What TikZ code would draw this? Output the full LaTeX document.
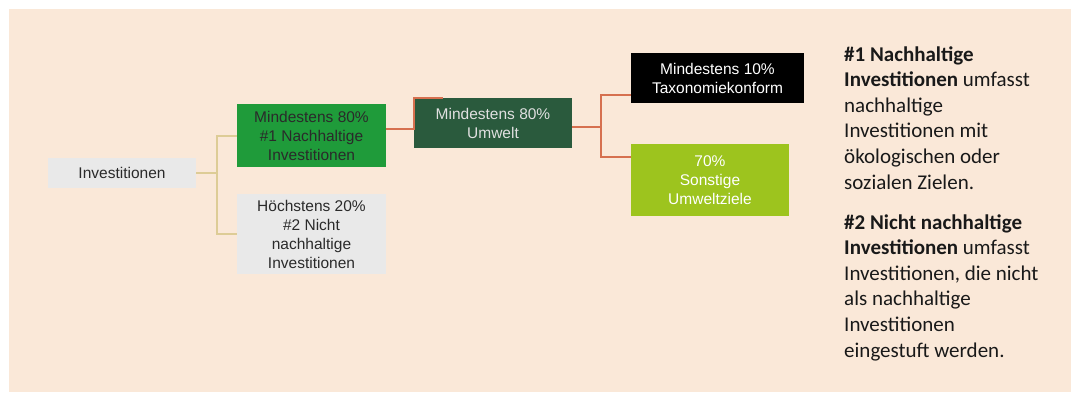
\documentclass[tikz,border=0pt]{standalone}
\usepackage{fontspec}
\setmainfont{Liberation Sans}
\newfontfamily\notefont{Carlito}
\definecolor{bgbeige}{HTML}{FAE8D8}
\definecolor{boxgray}{HTML}{E9E9E9}
\definecolor{nachgreen}{HTML}{1F9B3A}
\definecolor{umweltgreen}{HTML}{2A5A3D}
\definecolor{sonstgreen}{HTML}{9DC41E}
\definecolor{tanline}{HTML}{DDCC96}
\definecolor{redline}{HTML}{D6704F}
\definecolor{darktext}{HTML}{2A2A2A}

\begin{document}
\begin{tikzpicture}[x=1pt, y=-1pt,
	every node/.style={inner sep=0pt, align=center, text=darktext,
		font=\fontsize{15.5}{19}\selectfont},
	box/.style 2 args={minimum width=#1pt, minimum height=#2pt},
	tanlink/.style={draw=tanline, line width=2pt},
	redlink/.style={draw=redline, line width=2pt},
	notebox/.style={align=left, text=black!90, font=\notefont\fontsize{21}{25.6}\selectfont}]
\useasboundingbox (0,0) rectangle (1071,392);
\fill[bgbeige] (9,9) rectangle (1071,392);

\node[box={148}{30}, fill=boxgray] (inv) at (122,173) {Investitionen};
\node[box={149}{63}, fill=nachgreen] (nachh) at (311.5,135.5) {Mindestens 80\%\\\#1 Nachhaltige\\Investitionen};
\node[box={149}{80}, fill=boxgray] (nicht) at (311.5,234) {Höchstens 20\%\\\#2 Nicht\\nachhaltige\\Investitionen};
\node[box={158}{50.5}, fill=umweltgreen, text=white!88!black] (umwelt) at (493,123) {Mindestens 80\%\\Umwelt};
\node[box={173}{50}, fill=black, text=white] (taxo) at (717.5,78) {Mindestens 10\%\\Taxonomiekonform};
\node[box={158}{72}, fill=sonstgreen, text=white] (sonst) at (710,180) {70\%\\Sonstige\\Umweltziele};

\coordinate (jinv) at (216.5,173);
\coordinate (jnach) at (414,129);
\coordinate (stub) at (443,97.5);
\coordinate (jumw) at (601,127);
\draw[tanlink] (inv.east) -- (jinv);
\draw[tanlink] (nachh.west) -| (jinv) |- (nicht.west);
\draw[redlink] (nachh.east |- jnach) -- (jnach) |- (stub);
\draw[redlink] (umwelt.east |- jumw) -- (jumw);
\draw[redlink] ([yshift=-17pt]taxo.west) -| (jumw) |- ([yshift=23pt]sonst.west);

\node[notebox, anchor=base west] (note) at (844,357) {\textbf{\#1 Nachhaltige}\\
	\textbf{Investitionen} umfasst\\nachhaltige\\Investitionen mit\\ökologischen oder\\sozialen Zielen.\\[14.4pt]
	\textbf{\#2 Nicht nachhaltige}\\\textbf{Investitionen} umfasst\\Investitionen, die nicht\\als nachhaltige\\Investitionen\\eingestuft werden.};
\end{tikzpicture}
\end{document}
